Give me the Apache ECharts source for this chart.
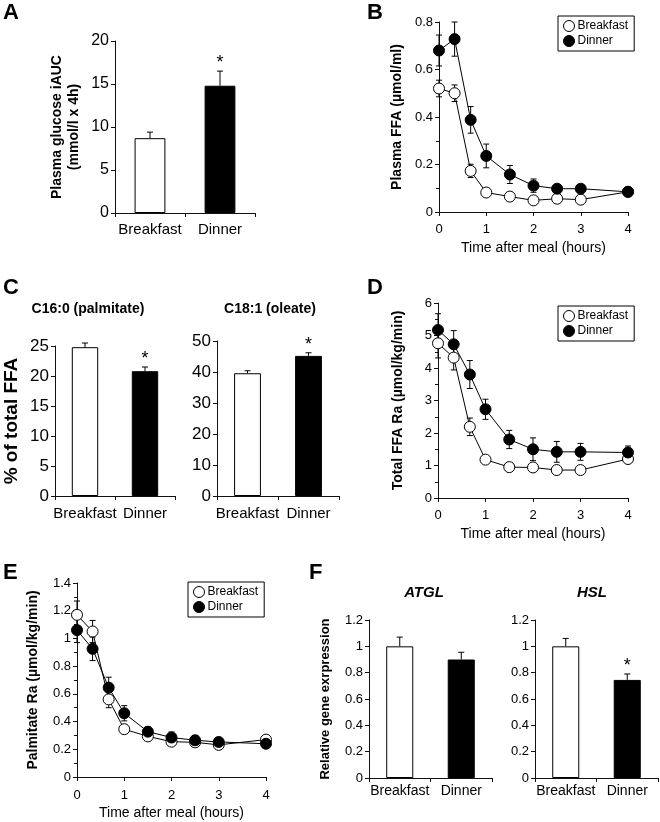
<!DOCTYPE html>
<html>
<head>
<meta charset="utf-8">
<script src="https://cdn.jsdelivr.net/npm/echarts@6/dist/echarts.min.js"></script>
<style>
  html, body { margin: 0; padding: 0; background: #fff; }
  #chart { width: 660px; height: 822px; }
</style>
</head>
<body>
<div id="chart"></div>
<script>
// bar panels
const barCats = ["Breakfast", "Dinner"];
const glucoseAUC = [8.7, 14.8];
const glucoseErr = [0.7, 1.7];
const glucoseSig = ["", "*"];
const palmitatePct = [24.8, 20.8];
const palmitateErr = [0.7, 0.7];
const palmitateSig = ["", "*"];
const oleatePct = [39.6, 45.2];
const oleateErr = [0.8, 1.0];
const oleateSig = ["", "*"];
const atglExpr = [1.0, 0.9];
const atglErr = [0.07, 0.055];
const atglSig = ["", ""];
const hslExpr = [1.0, 0.745];
const hslErr = [0.06, 0.045];
const hslSig = ["", "*"];

// time courses
const times = [0, 0.33, 0.67, 1, 1.5, 2, 2.5, 3, 4];
const ffaBreakfast = [0.52, 0.5, 0.173, 0.082, 0.065, 0.049, 0.056, 0.052, 0.085];
const ffaBreakfastErr = [0.035, 0.035, 0.028, 0.01, 0.01, 0.008, 0.008, 0.008, 0.008];
const ffaDinner = [0.68, 0.728, 0.388, 0.236, 0.158, 0.111, 0.098, 0.098, 0.085];
const ffaDinnerErr = [0.065, 0.072, 0.056, 0.05, 0.038, 0.028, 0.012, 0.012, 0.01];

const ffaRaBreakfast = [4.76, 4.32, 2.19, 1.18, 0.95, 0.94, 0.86, 0.86, 1.2];
const ffaRaBreakfastErr = [0.45, 0.38, 0.27, 0.1, 0.1, 0.1, 0.1, 0.1, 0.1];
const ffaRaDinner = [5.17, 4.73, 3.8, 2.73, 1.8, 1.5, 1.42, 1.42, 1.4];
const ffaRaDinnerErr = [0.5, 0.42, 0.43, 0.31, 0.28, 0.35, 0.32, 0.26, 0.2];

const palRaBreakfast = [1.17, 1.05, 0.56, 0.345, 0.293, 0.255, 0.25, 0.232, 0.27];
const palRaBreakfastErr = [0.1, 0.08, 0.06, 0.03, 0.02, 0.02, 0.02, 0.02, 0.02];
const palRaDinner = [1.06, 0.925, 0.645, 0.46, 0.327, 0.285, 0.265, 0.253, 0.24];
const palRaDinnerErr = [0.09, 0.085, 0.075, 0.055, 0.035, 0.04, 0.035, 0.03, 0.02];

const FONT = "Liberation Sans";
const chart = echarts.init(document.getElementById("chart"));

// draws an error bar; both = line goes down too (time courses)
function errorBar(both) {
  return function (params, api) {
    const x = api.value(0), y = api.value(1), e = api.value(2);
    const star = api.value(3);
    const top = api.coord([x, y + e]);
    const bot = both ? api.coord([x, y - e]) : api.coord([x, y]);
    const w = 3;
    const ln = (x1, y1, x2, y2) => ({
      type: "line",
      shape: { x1, y1, x2, y2 },
      style: { stroke: "#000", lineWidth: 1 }
    });
    const kids = [ln(top[0], bot[1], top[0], top[1]), ln(top[0] - w, top[1], top[0] + w, top[1])];
    if (both) kids.push(ln(top[0] - w, bot[1], top[0] + w, bot[1]));
    if (star === "*") {
      kids.push({
        type: "text",
        style: {
          text: "*", x: top[0], y: top[1] - 8, align: "center", verticalAlign: "middle",
          fontSize: 18, fontFamily: FONT, fill: "#000"
        }
      });
    }
    return { type: "group", children: kids };
  };
}

const grids = [
  { left: 115, top: 41, width: 140, height: 172 },   // A
  { left: 439, top: 22, width: 189, height: 190 },   // B
  { left: 53, top: 346, width: 122, height: 150 },   // C left
  { left: 217, top: 341, width: 122, height: 155 },  // C right
  { left: 438, top: 303, width: 190, height: 195 },  // D
  { left: 77, top: 583, width: 189, height: 194 },   // E
  { left: 369, top: 620, width: 123, height: 158 },  // F left
  { left: 535, top: 620, width: 123, height: 158 }   // F right
];

const axisLine = { show: true, lineStyle: { color: "#111", width: 1 } };
const axisTick = { show: true, length: 4, lineStyle: { color: "#111" } };

function catX(gi, fs, margin) {
  return {
    type: "category", gridIndex: gi, data: barCats,
    axisLine, axisTick: Object.assign({ alignWithLabel: false }, axisTick),
    axisLabel: { interval: 0, color: "#000", fontSize: fs, fontFamily: FONT, margin }
  };
}
function timeX(gi, margin) {
  return {
    type: "value", gridIndex: gi, min: 0, max: 4, interval: 1,
    axisLine, axisTick, splitLine: { show: false },
    axisLabel: { color: "#000", fontSize: 13, fontFamily: FONT, margin },
    name: "Time after meal (hours)", nameLocation: "middle", nameGap: 29,
    nameTextStyle: { color: "#000", fontSize: 14, fontFamily: FONT }
  };
}
function valY(gi, max, interval, name, gap, fs, nfs, minor) {
  return {
    type: "value", gridIndex: gi, min: 0, max, interval,
    axisLine, axisTick, splitLine: { show: false },
    minorTick: { show: !!minor, splitNumber: 2, length: 3, lineStyle: { color: "#111" } },
    axisLabel: { color: "#000", fontSize: fs, fontFamily: FONT, margin: 6 },
    name, nameLocation: "middle", nameGap: gap, nameRotate: 90,
    nameTextStyle: { color: "#000", fontSize: nfs, fontWeight: "bold", fontFamily: FONT, lineHeight: nfs + 3 }
  };
}

function barSeries(gi, name, vals, errs, sig) {
  return [
    {
      type: "bar", name, xAxisIndex: gi, yAxisIndex: gi, barWidth: "44%", z: 2,
      data: vals.map((v, i) => ({ value: v, itemStyle: { color: i ? "#000" : "#fff" } })),
      itemStyle: { borderColor: "#000", borderWidth: 1 }
    },
    {
      type: "custom", name: name + " err", xAxisIndex: gi, yAxisIndex: gi, z: 3,
      renderItem: errorBar(false), encode: { x: 0, y: 1 },
      data: vals.map((v, i) => [i, v, errs[i], sig[i]])
    }
  ];
}

function lineSeries(gi, name, vals, errs, filled) {
  return [
    {
      type: "custom", name: name + " err", xAxisIndex: gi, yAxisIndex: gi, z: 1,
      renderItem: errorBar(true), encode: { x: 0, y: 1 },
      data: times.map((t, i) => [t, vals[i], errs[i], ""])
    },
    {
      type: "line", name, xAxisIndex: gi, yAxisIndex: gi, z: filled ? 4 : 3,
      symbol: "circle", symbolSize: 11, showSymbol: true,
      lineStyle: { color: "#000", width: 1 },
      itemStyle: { color: filled ? "#000" : "#fff", borderColor: "#000", borderWidth: 1 },
      data: times.map((t, i) => [t, vals[i]])
    }
  ];
}

function legendAt(left, top) {
  return {
    left, top, orient: "vertical", icon: "circle",
    itemWidth: 11, itemHeight: 11, itemGap: 3, padding: [4, 6, 4, 5],
    borderColor: "#000", borderWidth: 1, selectedMode: false,
    textStyle: { color: "#000", fontSize: 12, fontFamily: FONT, padding: [0, 0, 0, -2] },
    data: [
      { name: "Breakfast", itemStyle: { color: "#fff", borderColor: "#000", borderWidth: 1 } },
      { name: "Dinner", itemStyle: { color: "#000", borderColor: "#000", borderWidth: 1 } }
    ]
  };
}

const letter = (text, left, top) => ({
  text, left, top, padding: 0,
  textStyle: { fontSize: 22, fontWeight: "bold", color: "#000", fontFamily: FONT }
});
const sub = (text, left, top, fs, italic) => ({
  text, left, top, padding: 0, textAlign: "center",
  textStyle: { fontSize: fs, fontWeight: "bold", fontStyle: italic ? "italic" : "normal", color: "#000", fontFamily: FONT }
});

const option = {
  animation: false,
  backgroundColor: "#fff",
  title: [
    letter("A", 3, 2), letter("B", 367, 2), letter("C", 3, 277),
    letter("D", 367, 277), letter("E", 3, 562), letter("F", 309, 562),
    sub("C16:0 (palmitate)", 88, 302, 14), sub("C18:1 (oleate)", 270, 302, 14),
    sub("ATGL", 424, 585, 15, true), sub("HSL", 592, 585, 15, true)
  ],
  legend: [legendAt(558, 16), legendAt(558, 306), legendAt(188, 582)],
  grid: grids,
  xAxis: [catX(0, 15, 9), timeX(1, 11), catX(2, 15, 10), catX(3, 15, 10), timeX(4, 11), timeX(5, 12), catX(6, 14, 6), catX(7, 14, 6)],
  yAxis: [
    valY(0, 20, 5, "Plasma glucose iAUC\n(mmol/l x 4h)", 32, 16, 14),
    valY(1, 0.8, 0.2, "Plasma FFA (µmol/ml)", 33, 13, 14, true),
    valY(2, 25, 5, "% of total FFA", 32, 17, 19),
    valY(3, 50, 10, "", 30, 17, 14),
    valY(4, 6, 1, "Total FFA Ra (µmol/kg/min)", 31, 13, 14, true),
    valY(5, 1.4, 0.2, "Palmitate Ra (µmol/kg/min)", 35, 13, 14, true),
    valY(6, 1.2, 0.2, "Relative gene exrpression", 36, 13, 13),
    valY(7, 1.2, 0.2, "", 30, 13, 13)
  ],
  series: [
    ...barSeries(0, "glucose", glucoseAUC, glucoseErr, glucoseSig),
    ...lineSeries(1, "Breakfast", ffaBreakfast, ffaBreakfastErr, false),
    ...lineSeries(1, "Dinner", ffaDinner, ffaDinnerErr, true),
    ...barSeries(2, "palmitate", palmitatePct, palmitateErr, palmitateSig),
    ...barSeries(3, "oleate", oleatePct, oleateErr, oleateSig),
    ...lineSeries(4, "Breakfast", ffaRaBreakfast, ffaRaBreakfastErr, false),
    ...lineSeries(4, "Dinner", ffaRaDinner, ffaRaDinnerErr, true),
    ...lineSeries(5, "Breakfast", palRaBreakfast, palRaBreakfastErr, false),
    ...lineSeries(5, "Dinner", palRaDinner, palRaDinnerErr, true),
    ...barSeries(6, "atgl", atglExpr, atglErr, atglSig),
    ...barSeries(7, "hsl", hslExpr, hslErr, hslSig)
  ]
};

chart.setOption(option);
</script>
</body>
</html>
